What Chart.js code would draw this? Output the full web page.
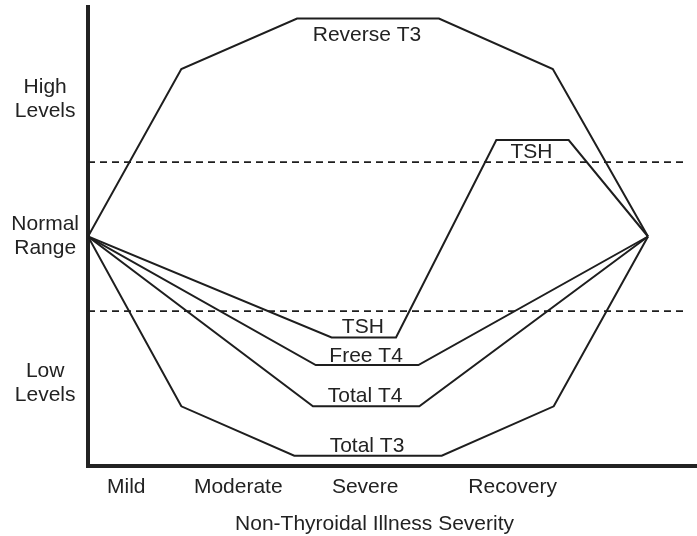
<!DOCTYPE html>
<html><head><meta charset="utf-8">
<script src="https://cdn.jsdelivr.net/npm/chart.js@4.4.1/dist/chart.umd.min.js"></script>
<style>html,body{margin:0;padding:0;background:#fff;overflow:hidden;}</style>
</head><body>
<canvas id="c" width="697" height="536"></canvas>
<script>
// ---- data ----
const stageTicks = [0.41, 1.61, 2.97, 4.55];
const stageLabels = ['Mild', 'Moderate', 'Severe', 'Recovery'];
const levelTicks = [60, 0, -64];
const levelLabels = [['High', 'Levels'], ['Normal', 'Range'], ['Low', 'Levels']];
const xTitle = 'Non-Thyroidal Illness Severity';
const xTitleAt = 3.07;

const reverseT3X = [0, 1.0, 2.24, 3.76, 4.98, 6.0];
const reverseT3Y = [0, 73, 95, 95, 73, 0];
const tshX = [0, 2.61, 3.30, 4.375, 5.15, 6.0];
const tshY = [0, -44, -44, 42, 42, 0];
const freeT4X = [0, 2.44, 3.54, 6.0];
const freeT4Y = [0, -56, -56, 0];
const totalT4X = [0, 2.41, 3.55, 6.0];
const totalT4Y = [0, -74, -74, 0];
const totalT3X = [0, 1.0, 2.21, 3.79, 4.99, 6.0];
const totalT3Y = [0, -74, -95.5, -95.5, -74, 0];
const normalUpperY = [32.4, 32.4];
const normalLowerY = [-32.5, -32.5];
const normalX = [0, 6.42];

// series text: which dataset, which flat segment, and pixel offset of the baseline
const seriesLabels = [
  {text: 'Reverse T3', series: 0, seg: 2, dy: 23},
  {text: 'TSH', series: 1, seg: 3, dy: 18},
  {text: 'TSH', series: 1, seg: 1, dy: -4},
  {text: 'Free T4', series: 2, seg: 1, dy: -3},
  {text: 'Total T4', series: 3, seg: 1, dy: -4},
  {text: 'Total T3', series: 4, seg: 2, dy: -4}
];

const pts = (xs, ys) => xs.map((x, i) => ({x, y: ys[i]}));
const FONT = '"Liberation Sans", Arial, Helvetica, sans-serif';
const INK = '#1e1e1e';
const FS = 21;

const lineDs = (label, xs, ys) => ({
  label, data: pts(xs, ys), borderColor: INK, borderWidth: 2,
  pointRadius: 0, tension: 0, fill: false
});
const dashDs = (label, xs, ys) => ({
  label, data: pts(xs, ys), borderColor: INK, borderWidth: 1.6,
  borderDash: [7, 5], pointRadius: 0, tension: 0, fill: false
});

const textPlugin = {
  id: 'seriesText',
  afterDatasetsDraw(chart) {
    const {ctx} = chart;
    const x = chart.scales.x, y = chart.scales.y;
    ctx.save();
    ctx.font = FS + 'px ' + FONT;
    ctx.fillStyle = '#222';
    ctx.textAlign = 'center';
    ctx.textBaseline = 'alphabetic';
    seriesLabels.forEach(l => {
      const d = chart.data.datasets[l.series].data;
      const a = d[l.seg], b = d[l.seg + 1];
      const px = (x.getPixelForValue(a.x) + x.getPixelForValue(b.x)) / 2 - 1;
      const py = y.getPixelForValue(a.y) + l.dy;
      ctx.fillText(l.text, px, py);
    });
    ctx.fillText(xTitle, x.getPixelForValue(xTitleAt), x.bottom - 6);
    ctx.restore();
  }
};

new Chart(document.getElementById('c'), {
  type: 'line',
  data: {
    datasets: [
      lineDs('Reverse T3', reverseT3X, reverseT3Y),
      lineDs('TSH', tshX, tshY),
      lineDs('Free T4', freeT4X, freeT4Y),
      lineDs('Total T4', totalT4X, totalT4Y),
      lineDs('Total T3', totalT3X, totalT3Y),
      dashDs('Upper normal', normalX, normalUpperY),
      dashDs('Lower normal', normalX, normalLowerY)
    ]
  },
  options: {
    responsive: false,
    devicePixelRatio: 1,
    animation: false,
    layout: {padding: {top: 7, left: 0, right: 0, bottom: 0}},
    plugins: {legend: {display: false}, tooltip: {enabled: false}, title: {display: false}},
    scales: {
      x: {
        type: 'linear', min: 0, max: 6.525,
        grid: {display: false, drawTicks: false},
        border: {display: true, color: '#222', width: 4},
        afterFit: s => { s.height = 70; s.paddingLeft = 0; s.paddingRight = 0; },
        afterBuildTicks: s => { s.ticks = stageTicks.map(v => ({value: v})); },
        ticks: {
          autoSkip: false, maxRotation: 0, padding: 9, color: '#222',
          font: {family: FONT, size: FS},
          callback: v => stageLabels[stageTicks.indexOf(v)]
        }
      },
      y: {
        type: 'linear', min: -100, max: 100,
        grid: {display: false, drawTicks: false},
        border: {display: true, color: '#222', width: 4},
        afterFit: s => { s.width = 88; s.paddingTop = 0; s.paddingBottom = 0; },
        afterBuildTicks: s => { s.ticks = levelTicks.map(v => ({value: v})); },
        ticks: {
          autoSkip: false, padding: 9, crossAlign: 'center', color: '#222',
          font: {family: FONT, size: FS, lineHeight: 1.15},
          callback: v => levelLabels[levelTicks.indexOf(v)]
        }
      }
    }
  },
  plugins: [textPlugin]
});
</script>
</body></html>
